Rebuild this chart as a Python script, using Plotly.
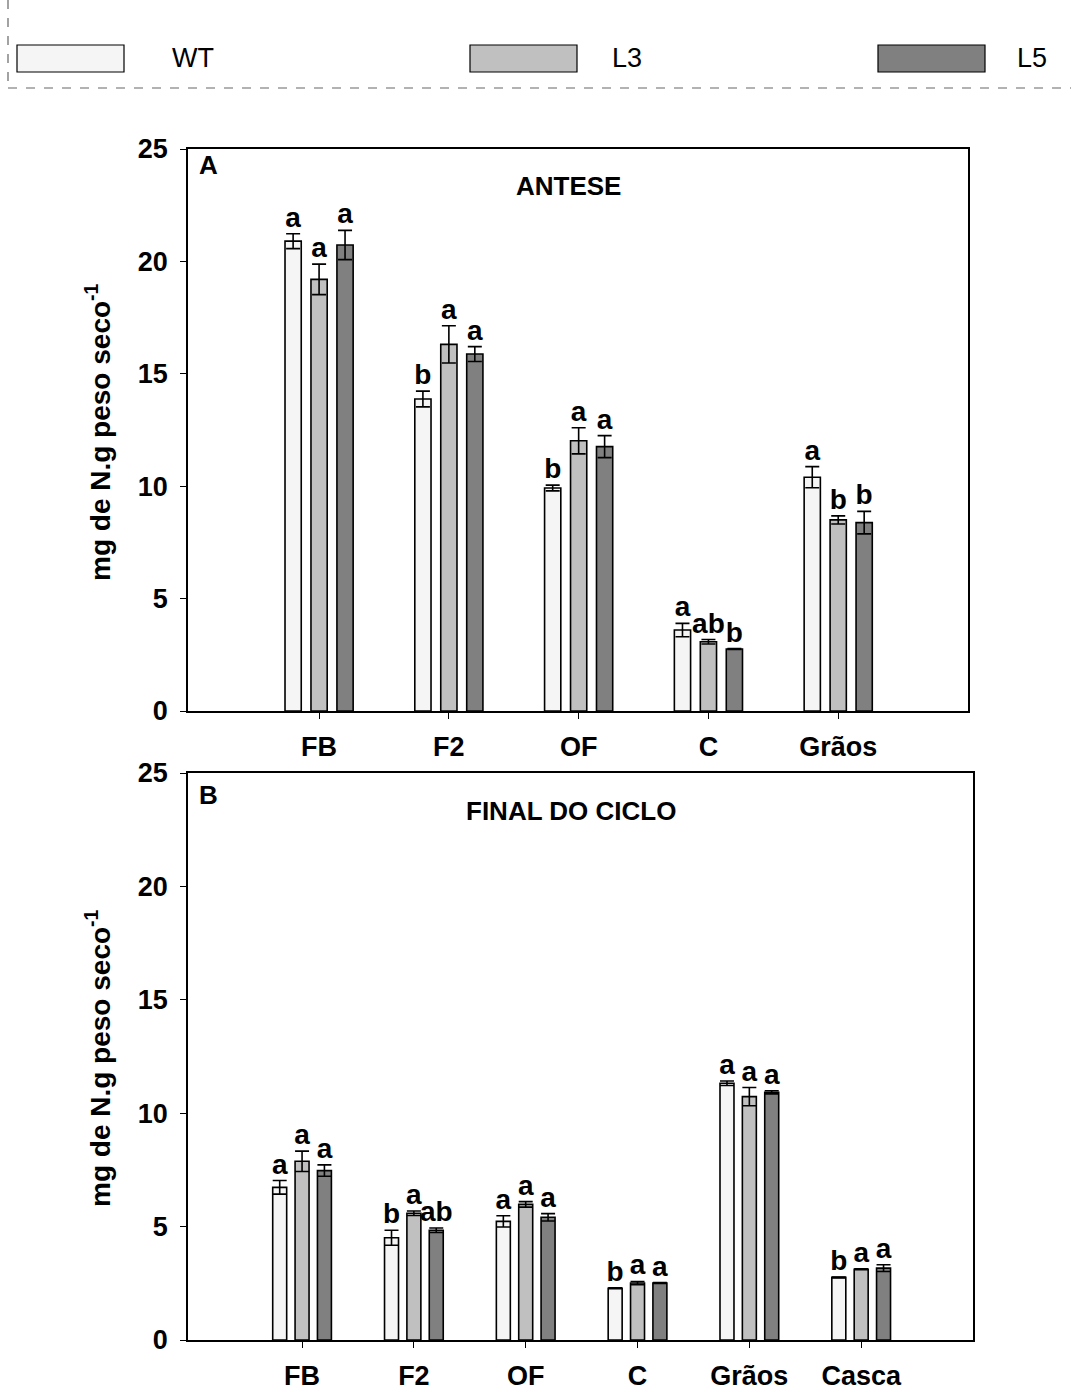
import plotly.graph_objects as go

# ---- data ----
series = ["WT", "L3", "L5"]
fills = ["#f5f5f5", "#c0c0c0", "#808080"]

cats_a = ["FB", "F2", "OF", "C", "Grãos"]
vals_a = {
    "WT": [20.9, 13.88, 9.92, 3.6, 10.4],
    "L3": [19.2, 16.31, 12.02, 3.08, 8.5],
    "L5": [20.73, 15.88, 11.76, 2.76, 8.38],
}
err_a = {
    "WT": [0.33, 0.35, 0.13, 0.3, 0.47],
    "L3": [0.68, 0.83, 0.58, 0.1, 0.18],
    "L5": [0.65, 0.33, 0.49, 0.02, 0.5],
}
sig_a = {
    "WT": ["a", "b", "b", "a", "a"],
    "L3": ["a", "a", "a", "ab", "b"],
    "L5": ["a", "a", "a", "b", "b"],
}

cats_b = ["FB", "F2", "OF", "C", "Grãos", "Casca"]
vals_b = {
    "WT": [6.73, 4.51, 5.23, 2.28, 11.32, 2.76],
    "L3": [7.88, 5.59, 5.98, 2.51, 10.73, 3.12],
    "L5": [7.47, 4.84, 5.41, 2.51, 10.92, 3.17],
}
err_b = {
    "WT": [0.3, 0.33, 0.25, 0.02, 0.1, 0.02],
    "L3": [0.45, 0.1, 0.12, 0.07, 0.4, 0.02],
    "L5": [0.25, 0.1, 0.16, 0.02, 0.07, 0.15],
}
sig_b = {
    "WT": ["a", "b", "a", "b", "a", "b"],
    "L3": ["a", "a", "a", "a", "a", "a"],
    "L5": ["a", "ab", "a", "a", "a", "a"],
}

W, H = 1071, 1392
FONT = "Liberation Sans, Arial, sans-serif"
offsets = [-0.2, 0.0, 0.2]
BAR_W = 0.125


def px(x):
    return x / W


def py(y):
    return 1 - y / H


fig = go.Figure()


def add_panel(cats, vals, errs, sigs, xa, ya):
    for s, off, col in zip(series, offsets, fills):
        xs = [i + off for i in range(len(cats))]
        fig.add_trace(go.Bar(
            x=xs, y=vals[s], width=BAR_W, name=s, showlegend=False,
            marker=dict(color=col, line=dict(color="black", width=1.6)),
            error_y=dict(type="data", array=errs[s], visible=True,
                         color="black", thickness=1.6, width=7),
            xaxis=xa, yaxis=ya,
        ))
        fig.add_trace(go.Scatter(
            x=xs, y=[v + e for v, e in zip(vals[s], errs[s])],
            mode="text", text=sigs[s], textposition="top center",
            textfont=dict(family=FONT, size=28, color="black", weight="bold"),
            showlegend=False, hoverinfo="skip", cliponaxis=False,
            xaxis=xa, yaxis=ya,
        ))


add_panel(cats_a, vals_a, err_a, sig_a, "x", "y")
add_panel(cats_b, vals_b, err_b, sig_b, "x2", "y2")

axis_common = dict(
    showline=True, linecolor="black", linewidth=1.6, mirror=True,
    ticks="outside", ticklen=6, tickwidth=1.4, tickcolor="black",
    showgrid=False, zeroline=False, automargin=False,
    tickfont=dict(family=FONT, size=27, color="black", weight="bold"),
)

fig.update_layout(
    width=W, height=H, margin=dict(l=0, r=0, t=0, b=0, pad=0, autoexpand=False),
    paper_bgcolor="white", plot_bgcolor="white",
    barmode="overlay", showlegend=False,
    xaxis=dict(axis_common, domain=[px(188), px(968)], range=[-1.01, 5.0],
               tickvals=list(range(len(cats_a))), ticktext=cats_a,
               ticklabelstandoff=5, anchor="y"),
    yaxis=dict(axis_common, domain=[py(711), py(149)], range=[0, 25],
               tickvals=[0, 5, 10, 15, 20, 25], ticklabelstandoff=7, anchor="x"),
    xaxis2=dict(axis_common, domain=[px(188), px(973)], range=[-1.02, 6.0],
                tickvals=list(range(len(cats_b))), ticktext=cats_b,
                ticklabelstandoff=5, anchor="y2"),
    yaxis2=dict(axis_common, domain=[py(1340), py(773)], range=[0, 25],
                tickvals=[0, 5, 10, 15, 20, 25], ticklabelstandoff=7, anchor="x2"),
)

ytitle = "mg de N.g peso seco<sup>-1</sup>"
anns = [
    dict(x=px(197), y=py(165), text="A", xanchor="left"),
    dict(x=px(568), y=py(186), text="ANTESE", xanchor="center"),
    dict(x=px(197), y=py(795), text="B", xanchor="left"),
    dict(x=px(571), y=py(811), text="FINAL DO CICLO", xanchor="center"),
]
for a in anns:
    fig.add_annotation(xref="paper", yref="paper", x=a["x"], y=a["y"],
                       text=a["text"], xanchor=a["xanchor"], yanchor="middle",
                       showarrow=False,
                       font=dict(family=FONT, size=26, color="black", weight="bold"))

for cy in (432, 1058):
    fig.add_annotation(xref="paper", yref="paper", x=px(98), y=py(cy),
                       text=ytitle, textangle=-90, showarrow=False,
                       xanchor="center", yanchor="middle",
                       font=dict(family=FONT, size=28, color="black", weight="bold"))

# legend: swatches and labels inside a dashed frame
sw_x = [(17, 124), (470, 577), (878, 985)]
lab_x = [170, 610, 1015]
for s, col, (x0, x1), lx in zip(series, fills, sw_x, lab_x):
    fig.add_shape(type="rect", xref="paper", yref="paper",
                  x0=px(x0), x1=px(x1), y0=py(72), y1=py(45),
                  fillcolor=col, line=dict(color="black", width=1.2))
    fig.add_annotation(xref="paper", yref="paper", x=px(lx), y=py(58),
                       text=s, showarrow=False, xanchor="left", yanchor="middle",
                       font=dict(family=FONT, size=27, color="black"))

fig.add_shape(type="line", xref="paper", yref="paper",
              x0=px(8), x1=px(8), y0=py(0), y1=py(88),
              line=dict(color="#666666", width=1.2, dash="dash"))
fig.add_shape(type="line", xref="paper", yref="paper",
              x0=px(8), x1=px(1071), y0=py(88), y1=py(88),
              line=dict(color="#666666", width=1.2, dash="dash"))

fig.write_html("out.html")
